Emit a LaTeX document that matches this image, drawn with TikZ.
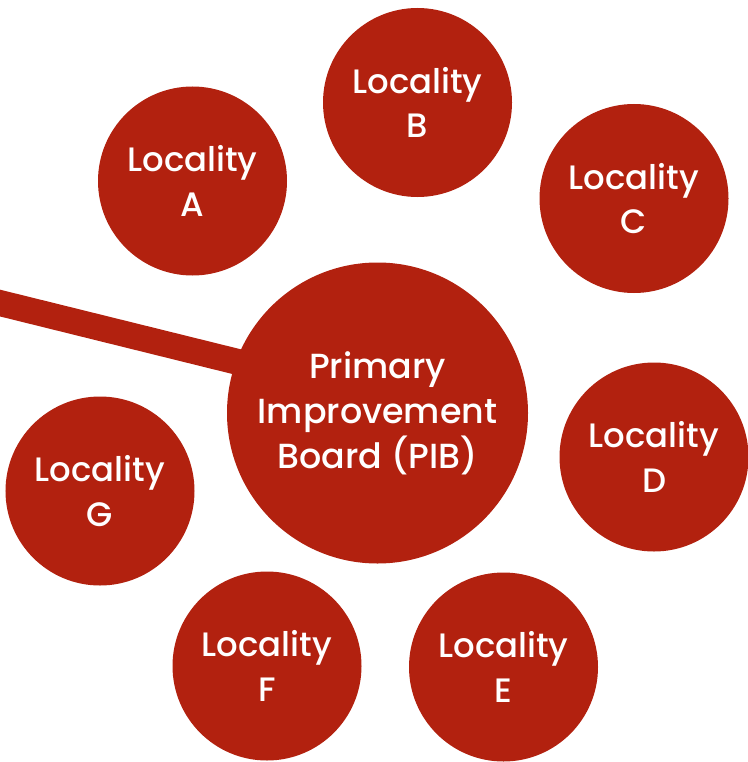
\documentclass[tikz,border=0pt]{standalone}
\usepackage{fontspec}
\setmainfont{Poppins}[UprightFont={* Medium}]
\usetikzlibrary{backgrounds}
\definecolor{pibred}{RGB}{178,33,15}
\tikzset{
  loc/.style={circle, fill=pibred, inner sep=0pt, minimum size=189bp, text=white,
    align=center, font=\fontsize{34}{45}\selectfont},
  hub/.style={loc, minimum size=301bp, font=\fontsize{35}{45}\selectfont},
  link/.style={draw=pibred, line width=26bp, shorten >=-25bp}
}
\begin{document}
\begin{tikzpicture}[x=1bp,y=-1bp]
\useasboundingbox (0,0) rectangle (748,762);
\node[hub] (pib) at (377.5,413) {Primary\\Improvement\\Board (PIB)};
\node[loc] (a) at (192.5,181) {Locality\\A};
\node[loc] (b) at (417.5,102.5) {Locality\\B};
\node[loc] (c) at (634,198.5) {Locality\\C};
\node[loc] (d) at (654,457) {Locality\\D};
\node[loc] (e) at (503.5,667) {Locality\\E};
\node[loc] (f) at (267,666) {Locality\\F};
\node[loc] (g) at (100,491) {Locality\\G};
\coordinate (lstart) at (-20,298.1);
\begin{scope}[on background layer]
\draw[link] (lstart) -- (pib.160);
\end{scope}
\end{tikzpicture}
\end{document}
